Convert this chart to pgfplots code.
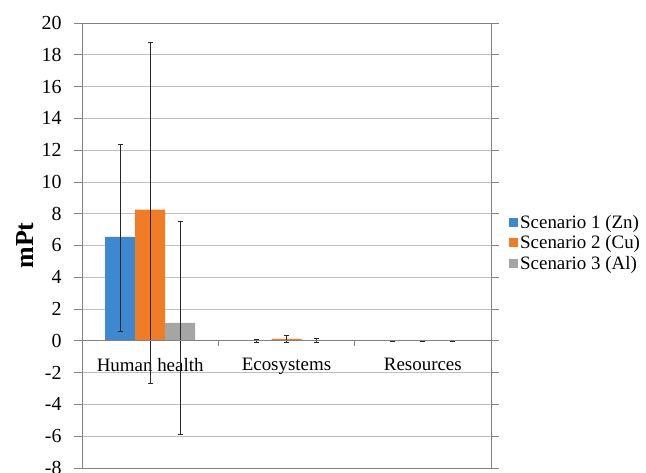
\documentclass[border=0pt]{standalone}
\usepackage{pgfplots}
\pgfplotsset{compat=1.18}
\usepackage{fontspec}
\setmainfont{Liberation Serif}
\newfontfamily\tnr{Liberation Serif}
\definecolor{sblue}{RGB}{62,136,210}
\definecolor{sorange}{RGB}{240,125,38}
\definecolor{sgray}{RGB}{165,165,165}
\definecolor{frame}{RGB}{130,130,130}
\definecolor{gridc}{RGB}{190,190,190}
\begin{document}
\begin{tikzpicture}
\begin{axis}[
  width=409bp, height=445bp, scale only axis,
  xmin=-0.5, xmax=2.5, ymin=-8, ymax=20,
  ytick={-8,-6,...,20},
  xtick={0,1,2}, xticklabels={Human health, Ecosystems, Resources},
  xtick style={draw=none},
  x tick label style={yshift=121bp, font=\tnr\fontsize{19}{22}\selectfont},
  y tick label style={xshift=-9bp, font=\tnr\fontsize{20}{24}\selectfont},
  /pgf/number format/assume math mode=true,
  ymajorgrids, grid style={draw=gridc, line width=0.8bp},
  axis line style={draw=frame, line width=0.9bp},
  ytick style={draw=frame, line width=0.8bp},
  tick align=outside, major tick length=8bp,
  ybar=0pt, bar width=30bp,
  ylabel={\bfseries mPt},
  every axis y label/.style={at={(axis description cs:-0.139,0.5)}, anchor=center, rotate=90, font=\tnr\fontsize{26}{30}\selectfont},
  error bars/y dir=both, error bars/y explicit,
  error bars/error bar style={black!85, line width=0.8bp},
  error bars/error mark options={rotate=90, mark size=2.5bp, black!85, line width=0.8bp},
  legend style={at={(axis description cs:1,0.506)}, anchor=west, xshift=15bp, draw=none, fill=none,
    font=\tnr\fontsize{19}{22}\selectfont, row sep=2bp},
  legend cell align=left,
  legend image code/.code={\fill[#1, draw=none] (0bp,-4.5bp) rectangle (9bp,4.5bp);},
]
\addplot[fill=sblue, draw=none] coordinates {(0,6.54) += (0,5.8) -= (0,5.95) (1,0.02) +- (0,0.1) (2,0.005) +- (0,0.02)};
\addplot[fill=sorange, draw=none] coordinates {(0,8.26) += (0,10.5) -= (0,10.93) (1,0.12) +- (0,0.2) (2,0.005) +- (0,0.02)};
\addplot[fill=sgray, draw=none] coordinates {(0,1.13) += (0,6.4) -= (0,7.0) (1,0.02) +- (0,0.12) (2,0.005) +- (0,0.02)};
\legend{Scenario 1 (Zn), Scenario 2 (Cu), Scenario 3 (Al)}
\draw[frame, line width=0.9bp] (axis cs:-0.5,0) -- (axis cs:2.5,0);
\draw[frame, line width=0.8bp] (axis cs:0.5,0) -- ([yshift=-5bp]axis cs:0.5,0);
\draw[frame, line width=0.8bp] (axis cs:1.5,0) -- ([yshift=-5bp]axis cs:1.5,0);
\coordinate (sw) at (rel axis cs:0,0);
\end{axis}
\pgfresetboundingbox
\path (sw) ++(-82bp,-5bp) rectangle ++(646bp,473bp);
\end{tikzpicture}
\end{document}
